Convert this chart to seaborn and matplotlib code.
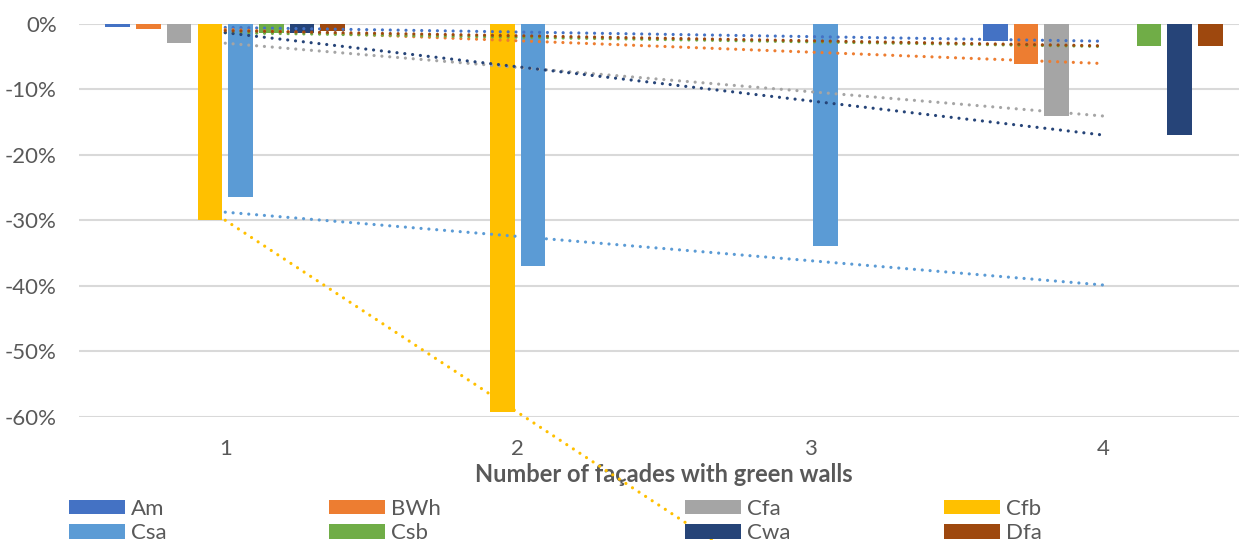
import numpy as np
import pandas as pd
import matplotlib
matplotlib.use('Agg')
import matplotlib.pyplot as plt
from matplotlib.patches import Patch
import seaborn as sns

# 数据 (单位: 比例)
categories = ['1', '2', '3', '4']
climates = ['Am', 'BWh', 'Cfa', 'Cfb', 'Csa', 'Csb', 'Cwa', 'Dfa']
Am = [-0.006, np.nan, np.nan, -0.027]
BWh = [-0.009, np.nan, np.nan, -0.061]
Cfa = [-0.030, np.nan, np.nan, -0.141]
Cfb = [-0.300, -0.593, np.nan, np.nan]
Csa = [-0.265, -0.370, -0.339, np.nan]
Csb = [-0.014, np.nan, np.nan, -0.035]
Cwa = [-0.014, np.nan, np.nan, -0.170]
Dfa = [-0.011, np.nan, np.nan, -0.034]
y_ticks = [-0.6, -0.5, -0.4, -0.3, -0.2, -0.1, 0.0]
y_labels = ['-60%', '-50%', '-40%', '-30%', '-20%', '-10%', '0%']

colors = ['#4472C4', '#ED7D31', '#A5A5A5', '#FFC000',
          '#5B9BD5', '#70AD47', '#264478', '#9E480E']

series = {'Am': Am, 'BWh': BWh, 'Cfa': Cfa, 'Cfb': Cfb,
          'Csa': Csa, 'Csb': Csb, 'Cwa': Cwa, 'Dfa': Dfa}

rows = []
for name in climates:
    for cat, val in zip(categories, series[name]):
        rows.append({'facades': cat, 'climate': name, 'value': val})
df = pd.DataFrame(rows).dropna()

sns.set_style('white')
plt.rcParams['font.family'] = ['Lato', 'DejaVu Sans']

fig = plt.figure(figsize=(12.39, 5.40), dpi=100)
W, H = 1239, 540
ax = fig.add_axes([79 / W, 1 - 417 / H, (1249 - 79) / W, (417 - 23.5) / H])

sns.barplot(data=df, x='facades', y='value', hue='climate',
            order=categories, hue_order=climates, palette=colors,
            saturation=1, width=0.84, gap=0.2, ax=ax, legend=False,
            zorder=2, edgecolor='none')

# 线性趋势线 (在类别中心)
for name, col in zip(climates, colors):
    vals = np.array(series[name])
    xs = np.arange(len(categories))
    mask = ~np.isnan(vals)
    k, b = np.polyfit(xs[mask], vals[mask], 1)
    ax.plot([0, 3], [b, k * 3 + b], color=col, lw=2.3,
            linestyle=(0, (0.01, 2.45)), dash_capstyle='round',
            clip_on=False, zorder=4)

ax.set_xlim(-0.5, 3.5)
ax.set_ylim(-0.6, 0)
ax.set_yticks(y_ticks)
ax.set_yticklabels(y_labels)
ax.grid(axis='y', color='#D9D9D9', lw=1.5, zorder=0)
ax.set_axisbelow(True)
for s in ax.spines.values():
    s.set_visible(False)
ax.tick_params(axis='both', length=0, labelsize=16, colors='#595959')
ax.tick_params(axis='y', pad=16)
ax.tick_params(axis='x', pad=16)
ax.set_ylabel('')
ax.set_xlabel('Number of façades with green walls', fontsize=17,
              fontweight='bold', color='#595959', labelpad=3)

# 图例: 每列一个
col_x = [69, 329, 685, 944]
for i, x0 in enumerate(col_x):
    names = [climates[i], climates[i + 4]]
    handles = [Patch(facecolor=colors[climates.index(n)], edgecolor='none') for n in names]
    leg = fig.legend(handles, names, loc='upper left',
                     bbox_to_anchor=(x0 / W, 1 - 499 / H), frameon=False,
                     fontsize=16, handlelength=2.5, handleheight=0.62,
                     handletextpad=0.3, labelspacing=0.2, borderpad=0,
                     borderaxespad=0, labelcolor='#595959')
    leg.set_zorder(10)

fig.savefig('out.png', dpi=100)
